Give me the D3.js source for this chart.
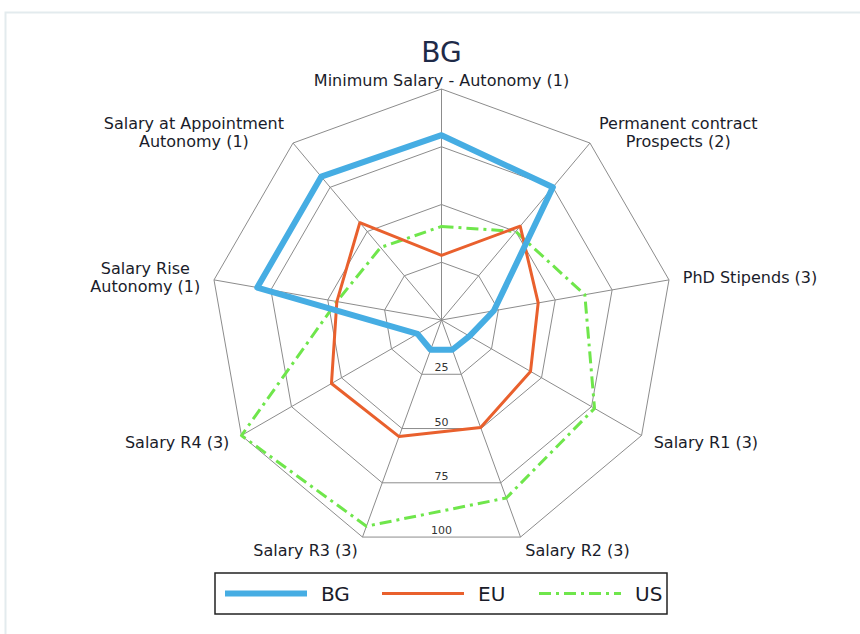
<!DOCTYPE html>
<html>
<head>
<meta charset="utf-8">
<script src="https://cdn.jsdelivr.net/npm/d3@7"></script>
<style>
  body { margin: 0; background: #fff; }
  text { font-family: "DejaVu Sans", sans-serif; }
</style>
</head>
<body>
<svg id="chart" width="860" height="634"></svg>
<script>
// axis labels, clockwise from the top
const axisLabels = [
  ['Minimum Salary - Autonomy (1)'],
  ['Permanent contract', 'Prospects (2)'],
  ['PhD Stipends (3)'],
  ['Salary R1 (3)'],
  ['Salary R2 (3)'],
  ['Salary R3 (3)'],
  ['Salary R4 (3)'],
  ['Salary Rise', 'Autonomy (1)'],
  ['Salary at Appointment', 'Autonomy (1)']
]
const levels = [25, 50, 75, 100]

const seriesNames = ['BG', 'EU', 'US']
const bgValues = [80, 75, 23, 14, 13.7, 13.7, 12, 81, 81]
const euValues = [28, 53, 42.5, 44.5, 49.5, 53.7, 55, 46, 55]
const usValues = [40.5, 50, 63, 76.5, 82, 95, 100, 46, 41]

const styles = {
  BG: { color: '#46ade3', width: 6, dash: null },
  EU: { color: '#e9602d', width: 3, dash: null },
  US: { color: '#6fe64b', width: 3, dash: '12,5,3,5' }
}

const svg = d3.select('#chart')
const cx = 441.5
const cy = 320
const radius = 231

// faint outer frame
svg.append('rect')
  .attr('x', 5.5).attr('y', 12.5)
  .attr('width', 880).attr('height', 640)
  .attr('fill', '#fff')
  .attr('stroke', '#e3ebee')
  .attr('stroke-width', 2)

const n = axisLabels.length
const angle = d3.scaleLinear().domain([0, n]).range([0, 2 * Math.PI])
const r = d3.scaleLinear().domain([0, 100]).range([0, radius])

const g = svg.append('g').attr('transform', `translate(${cx},${cy})`)

const ringLine = d3.lineRadial()
  .angle((d, i) => angle(i))
  .radius(d => r(d))
  .curve(d3.curveLinearClosed)

// grid rings
g.selectAll('.ring')
  .data(levels)
  .enter()
  .append('path')
  .attr('class', 'ring')
  .attr('d', lv => ringLine(d3.range(n).map(() => lv)))
  .attr('fill', 'none')
  .attr('stroke', '#8c8c8c')
  .attr('stroke-width', 1)

// spokes
g.selectAll('.spoke')
  .data(d3.range(n))
  .enter()
  .append('line')
  .attr('class', 'spoke')
  .attr('x1', 0).attr('y1', 0)
  .attr('x2', i => r(100) * Math.sin(angle(i)))
  .attr('y2', i => -r(100) * Math.cos(angle(i)))
  .attr('stroke', '#8c8c8c')
  .attr('stroke-width', 1)

// level labels sit just above the bottom edge of each ring
g.selectAll('.lvl')
  .data(levels)
  .enter()
  .append('text')
  .attr('class', 'lvl')
  .attr('x', 0)
  .attr('y', lv => r(lv) * Math.cos(Math.PI / n) - 3)
  .attr('text-anchor', 'middle')
  .style('font-size', '11px')
  .style('fill', '#333')
  .text(d => d)

// series
const seriesData = [
  { name: 'US', values: usValues },
  { name: 'EU', values: euValues },
  { name: 'BG', values: bgValues }
]

g.selectAll('.series')
  .data(seriesData)
  .enter()
  .append('path')
  .attr('class', 'series')
  .attr('d', d => ringLine(d.values))
  .attr('fill', 'none')
  .attr('stroke', d => styles[d.name].color)
  .attr('stroke-width', d => styles[d.name].width)
  .attr('stroke-dasharray', d => styles[d.name].dash)
  .attr('stroke-linejoin', 'round')

// axis labels
const lineH = 18
axisLabels.forEach((lines, i) => {
  const a = angle(i)
  const s = Math.sin(a)
  const c = Math.cos(a)
  const d = i === 0 ? 9 : 14
  const px = (radius + d) * s
  const py = -(radius + d) * c
  const lab = g.append('g')
  const texts = lines.map((t, k) => lab.append('text')
    .attr('y', py + (k - (lines.length - 1) / 2) * lineH)
    .attr('dy', '0.35em')
    .attr('text-anchor', 'middle')
    .style('font-size', '16px')
    .style('fill', '#1a1c2a')
    .text(t))
  const w = d3.max(texts, t => t.node().getComputedTextLength())
  let mid = px
  if (s > 0.1) mid = px + w / 2
  else if (s < -0.1) mid = px - w / 2
  texts.forEach(t => t.attr('x', mid))
})

// title
svg.append('text')
  .attr('x', cx)
  .attr('y', 62)
  .attr('text-anchor', 'middle')
  .style('font-size', '28px')
  .style('fill', '#1e2a48')
  .text('BG')

// legend
const legend = svg.append('g').attr('transform', 'translate(215,573)')
legend.append('rect')
  .attr('width', 452).attr('height', 41)
  .attr('fill', '#fff')
  .attr('stroke', '#222')
  .attr('stroke-width', 1.5)

seriesNames.forEach((name, i) => {
  const x0 = 10 + i * 157
  legend.append('line')
    .attr('x1', x0).attr('x2', x0 + 82)
    .attr('y1', 20.5).attr('y2', 20.5)
    .attr('stroke', styles[name].color)
    .attr('stroke-width', styles[name].width)
    .attr('stroke-dasharray', styles[name].dash)
  legend.append('text')
    .attr('x', x0 + 96)
    .attr('y', 20.5)
    .attr('dy', '0.36em')
    .style('font-size', '20px')
    .style('fill', '#1a1c2a')
    .text(name)
})
</script>
</body>
</html>
